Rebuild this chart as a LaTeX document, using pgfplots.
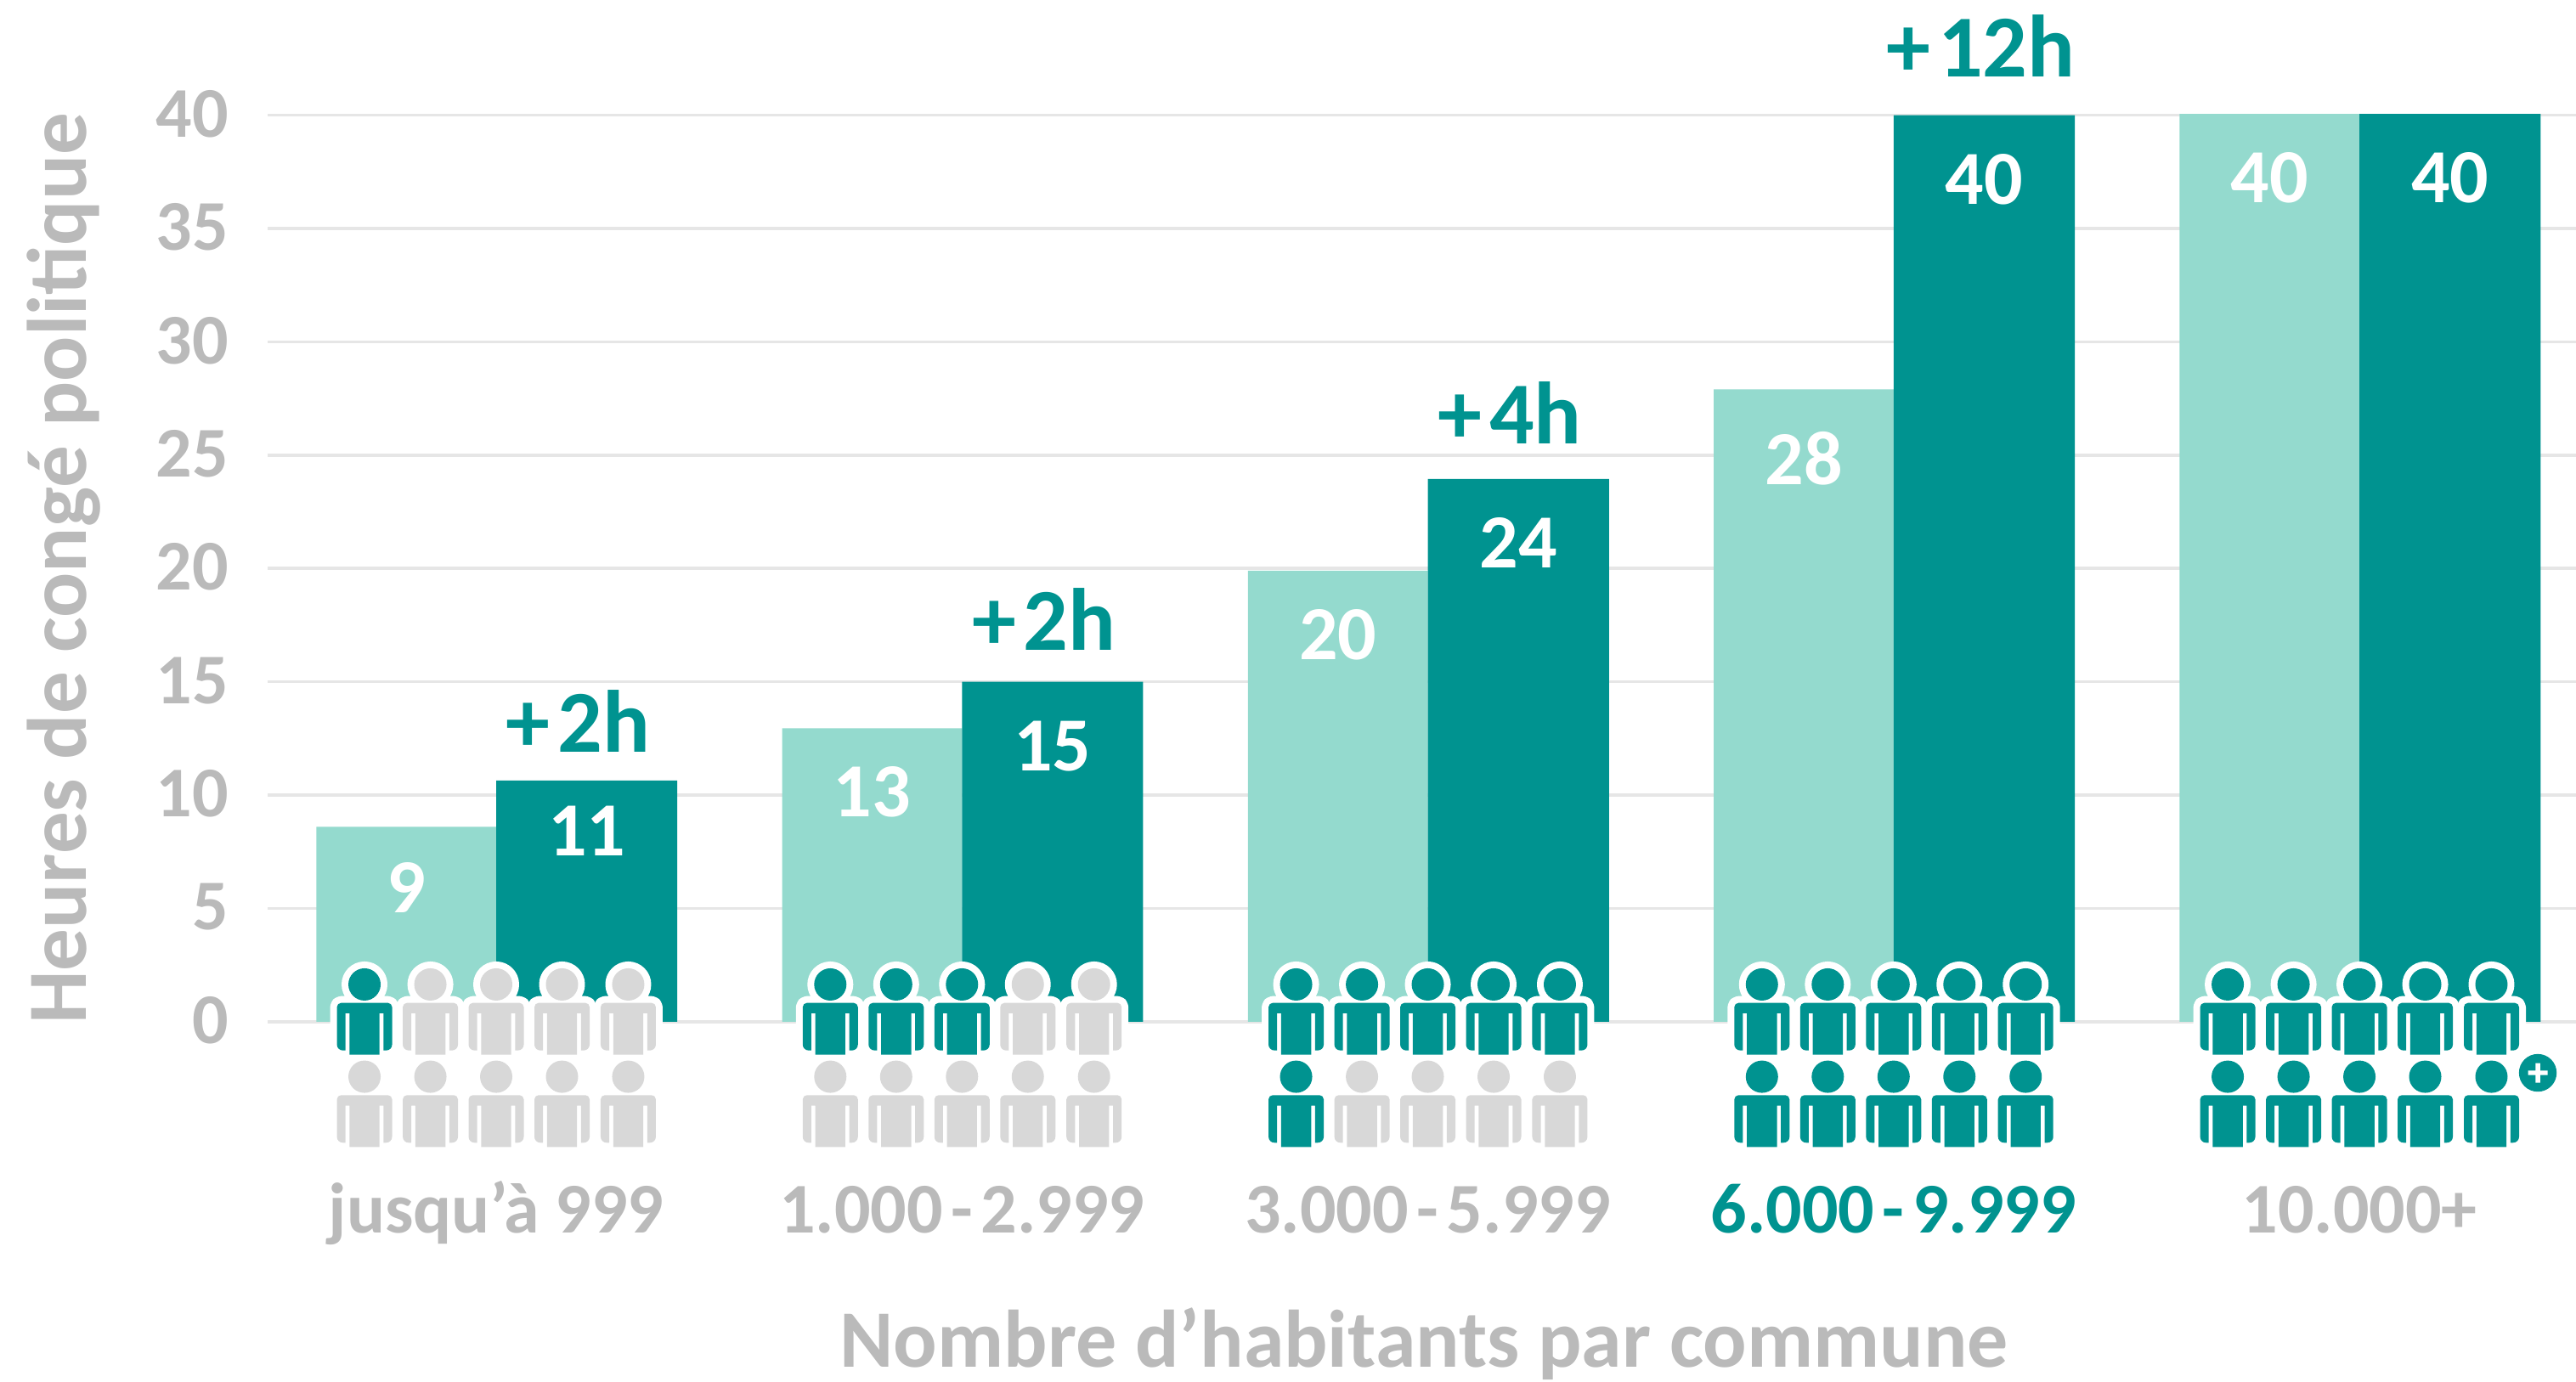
\documentclass[border=0pt]{standalone}
\usepackage{fontspec}
\setmainfont{Carlito}
\usepackage{pgfplots}
\pgfplotsset{compat=1.18}
\usepackage{pgfplotstable}
\definecolor{tealdark}{HTML}{009390}
\definecolor{teallight}{HTML}{94DACE}
\definecolor{txtgray}{HTML}{BABABA}
\definecolor{icongray}{HTML}{D8D8D8}
\definecolor{gridgray}{HTML}{E6E6E6}
\newcommand{\pxp}[2]{\pgfpoint{#1*0.25pt}{#2*0.25pt}}
\newcommand{\personpath}{%
  \pgfpathcircle{\pgfpointorigin}{4.75pt}%
  \pgfpathmoveto{\pxp{-17.7}{-82.7}}%
  \pgfpathlineto{\pxp{17.7}{-82.7}}%
  \pgfpathlineto{\pxp{17.7}{-34}}%
  \pgfpathlineto{\pxp{22.4}{-34}}%
  \pgfpathlineto{\pxp{22.4}{-77.7}}%
  \pgfpathlineto{\pxp{25.5}{-77.7}}%
  \pgfpathcurveto{\pxp{29.4}{-77.7}}{\pxp{32.5}{-74.6}}{\pxp{32.5}{-70.7}}%
  \pgfpathlineto{\pxp{32.5}{-26.7}}%
  \pgfpathcurveto{\pxp{32.5}{-24}}{\pxp{30.2}{-21.7}}{\pxp{27.5}{-21.7}}%
  \pgfpathlineto{\pxp{-27.5}{-21.7}}%
  \pgfpathcurveto{\pxp{-30.2}{-21.7}}{\pxp{-32.5}{-24}}{\pxp{-32.5}{-26.7}}%
  \pgfpathlineto{\pxp{-32.5}{-70.7}}%
  \pgfpathcurveto{\pxp{-32.5}{-74.6}}{\pxp{-29.4}{-77.7}}{\pxp{-25.5}{-77.7}}%
  \pgfpathlineto{\pxp{-22.4}{-77.7}}%
  \pgfpathlineto{\pxp{-22.4}{-34}}%
  \pgfpathlineto{\pxp{-17.7}{-34}}%
  \pgfpathclose}
\pgfdeclareplotmark{person}{\personpath\pgfusepathqfill}
\pgfdeclareplotmark{personhalo}{%
  \pgfsetlinewidth{4pt}\pgfsetroundjoin
  \pgfsetstrokecolor{white}\pgfsetfillcolor{white}%
  \personpath\pgfusepathqfillstroke}
\pgfdeclareplotmark{plusbadge}{%
  \pgfpathcircle{\pgfpointorigin}{5.55pt}\pgfsetfillcolor{tealdark}\pgfusepathqfill
  \pgfpathrectangle{\pxp{-11.5}{-2.7}}{\pxp{23}{5.4}}%
  \pgfpathrectangle{\pxp{-2.7}{-11.5}}{\pxp{5.4}{23}}%
  \pgfsetfillcolor{white}\pgfusepathqfill}
\pgfplotstableread{
x y label
0 8.6 9
1 12.95 13
2 19.9 20
3 27.9 28
4 40.05 40
}\lighttable
\pgfplotstableread{
x y label
0 10.65 11
1 15.0 15
2 23.95 24
3 40.0 40
4 40.05 40
}\darktable
\begin{document}
\begin{tikzpicture}[x=1pt,y=1pt]
\useasboundingbox (0,0) rectangle (758pt,406.75pt);
\begin{axis}[
  at={(78.75pt,106pt)}, anchor=south west,
  scale only axis, width=679.25pt, height=266.875pt,
  xmin=-0.4907, xmax=4.465, ymin=0, ymax=40,
  clip=false,
  axis line style={draw=none},
  major tick length=0pt,
  ymajorgrids,
  major grid style={gridgray,line width=0.9pt},
  ytick={0,5,...,40},
  xtick={0,1,2,3,4},
  xticklabels={jusqu'à 999,1.000\kern2.4pt-\kern2.4pt2.999,3.000\kern2.4pt-\kern2.4pt5.999,\textcolor{tealdark}{6.000\kern2.4pt-\kern2.4pt9.999},10.000\kern0pt+},
  /pgf/number format/assume math mode=true,
  tick label style={font=\fontsize{21}{24}\selectfont\bfseries,text=txtgray},
  yticklabel style={xshift=-8pt,yshift=0.4pt},
  xticklabel style={anchor=base,yshift=-62.25pt},
  xlabel={Nombre d’habitants par commune},
  ylabel={Heures de congé politique},
  xlabel style={font=\fontsize{24}{28}\selectfont\bfseries,text=txtgray,text depth=0pt,at={(axis description cs:0.501,-0.381)},anchor=base},
  ylabel style={font=\fontsize{24.8}{28}\selectfont\bfseries,text=txtgray,at={(axis description cs:-0.0785,0.5)},anchor=base},
  every node near coord/.append style={anchor=center,yshift=-18.85pt,font=\fontsize{22.5}{24}\selectfont\bfseries,text=white},
]
\addplot[ybar,bar width=52.9pt,bar shift=-26.45pt,fill=teallight,draw=none,
  nodes near coords,nodes near coords style={xshift=-26.45pt},point meta=explicit symbolic,
  coordinate style/.condition={x==0}{yshift=1pt},
  coordinate style/.condition={x==3}{yshift=-1.5pt}] table[x=x,y=y,meta=label]{\lighttable};
\addplot[ybar,bar width=53.3pt,bar shift=26.65pt,fill=tealdark,draw=none,
  nodes near coords,nodes near coords style={xshift=26.65pt},point meta=explicit symbolic,
  coordinate style/.condition={x==0}{yshift=3.9pt}] table[x=x,y=y,meta=label]{\darktable};
% halos, first row
\addplot[only marks,mark=personhalo,white] coordinates {
(-0.2827,1.65)(-0.1413,1.65)(0,1.65)(0.1413,1.65)(0.2835,1.65)
(0.7173,1.65)(0.8587,1.65)(1,1.65)(1.1413,1.65)(1.2835,1.65)
(1.7173,1.65)(1.8587,1.65)(2,1.65)(2.1413,1.65)(2.2835,1.65)
(2.7173,1.65)(2.8587,1.65)(3,1.65)(3.1413,1.65)(3.2835,1.65)
(3.7173,1.65)(3.8587,1.65)(4,1.65)(4.1413,1.65)(4.2835,1.65)};
% inhabitants counted (teal)
\addplot[only marks,mark=person,tealdark,mark options={fill=tealdark,draw=none}] coordinates {
(-0.2827,1.65)
(0.7173,1.65)(0.8587,1.65)(1,1.65)
(1.7173,1.65)(1.8587,1.65)(2,1.65)(2.1413,1.65)(2.2835,1.65)
(2.7173,1.65)(2.8587,1.65)(3,1.65)(3.1413,1.65)(3.2835,1.65)
(3.7173,1.65)(3.8587,1.65)(4,1.65)(4.1413,1.65)(4.2835,1.65)
(1.7173,-2.42)
(2.7173,-2.42)(2.8587,-2.42)(3,-2.42)(3.1413,-2.42)(3.2835,-2.42)
(3.7173,-2.42)(3.8587,-2.42)(4,-2.42)(4.1413,-2.42)(4.2835,-2.42)};
% remainder (grey)
\addplot[only marks,mark=person,icongray,mark options={fill=icongray,draw=none}] coordinates {
(-0.1413,1.65)(0,1.65)(0.1413,1.65)(0.2835,1.65)
(1.1413,1.65)(1.2835,1.65)
(-0.2827,-2.42)(-0.1413,-2.42)(0,-2.42)(0.1413,-2.42)(0.2835,-2.42)
(0.7173,-2.42)(0.8587,-2.42)(1,-2.42)(1.1413,-2.42)(1.2835,-2.42)
(1.8587,-2.42)(2,-2.42)(2.1413,-2.42)(2.2835,-2.42)};
\addplot[only marks,mark=plusbadge] coordinates {(4.383,-2.25)};
\tikzset{delta/.style={anchor=base,font=\fontsize{26}{30}\selectfont\bfseries,text=tealdark}}
\node[delta] at (axis cs:0.176,11.9) {+\kern2.3pt2h};
\node[delta] at (axis cs:1.176,16.4) {+\kern2.3pt2h};
\node[delta] at (axis cs:2.176,25.5) {+\kern2.3pt4h};
\node[delta] at (axis cs:3.187,41.7) {+\kern2.3pt12h};
\end{axis}
\end{tikzpicture}
\end{document}
